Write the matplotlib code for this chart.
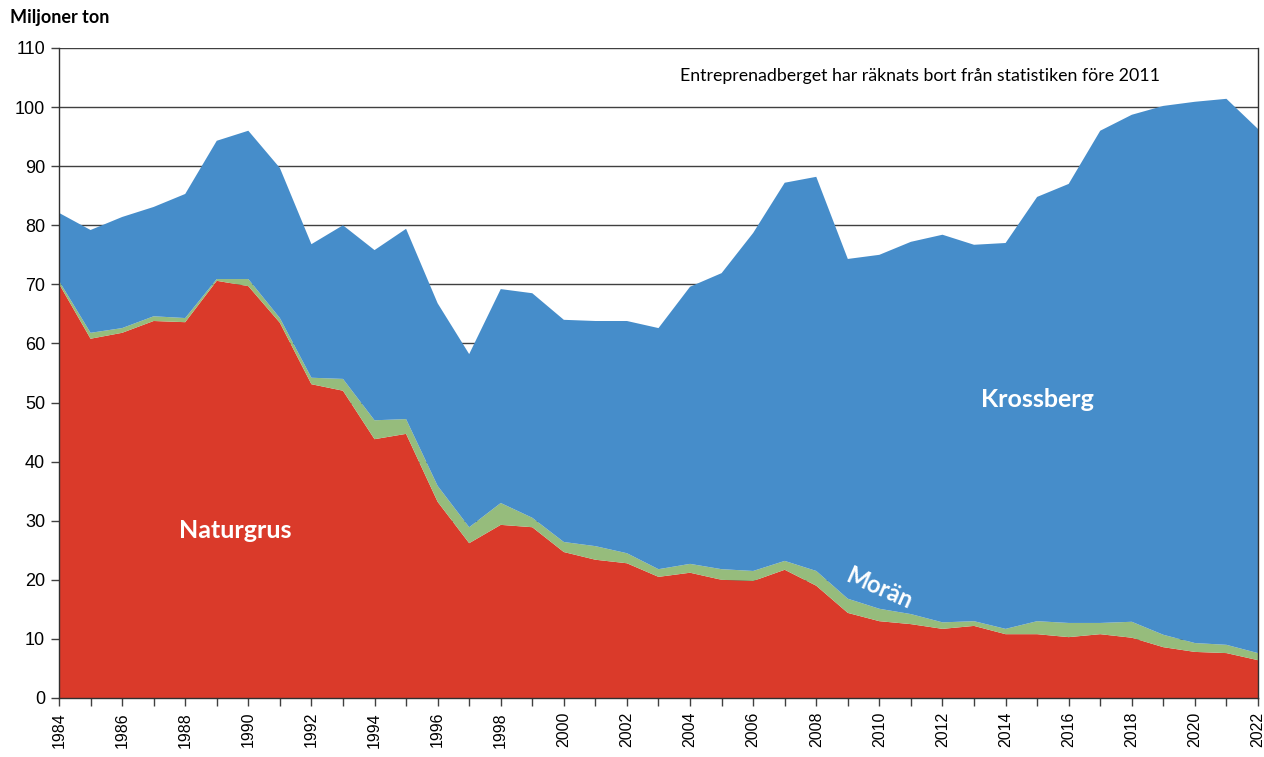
import matplotlib
matplotlib.use("Agg")
import matplotlib.pyplot as plt
import numpy as np

years = list(range(1984, 2023))
naturgrus = [70.1, 60.8, 61.8, 63.8, 63.6, 70.6, 69.7, 63.5, 53.1, 52.0,
             43.8, 44.7, 33.2, 26.2, 29.3, 28.9, 24.7, 23.4, 22.8, 20.5,
             21.2, 20.0, 19.8, 21.7, 19.0, 14.4, 13.0, 12.5, 11.7, 12.2,
             10.8, 10.8, 10.3, 10.8, 10.2, 8.6, 7.8, 7.6, 6.4]
moran = [0.5, 1.0, 0.8, 0.8, 0.7, 0.3, 1.2, 0.8, 1.1, 2.0,
         3.2, 2.5, 2.7, 2.7, 3.7, 1.6, 1.7, 2.3, 1.7, 1.3,
         1.5, 1.8, 1.7, 1.5, 2.5, 2.4, 2.1, 1.7, 1.1, 0.8,
         0.9, 2.2, 2.4, 1.9, 2.7, 2.1, 1.5, 1.4, 1.2]
krossberg = [11.5, 17.4, 18.8, 18.5, 21.0, 23.4, 25.1, 25.4, 22.6, 26.0,
             28.8, 32.2, 30.9, 29.3, 36.2, 38.0, 37.6, 38.1, 39.3, 40.8,
             46.9, 50.1, 57.2, 64.0, 66.7, 57.5, 59.9, 63.0, 65.6, 63.7,
             65.3, 71.8, 74.3, 83.3, 85.8, 89.5, 91.6, 92.4, 88.7]
yticks = list(range(0, 111, 10))

c_red = "#DA3A2A"
c_green = "#96BC7C"
c_blue = "#468DCA"

fig = plt.figure(figsize=(12.64, 7.57), dpi=100)
ax = fig.add_axes([59/1264, 1-698/757, (1258-59)/1264, (698-48)/757])

ax.stackplot(years, naturgrus, moran, krossberg,
             colors=[c_red, c_green, c_blue], linewidth=0, zorder=2)

ax.set_xlim(1984, 2022)
ax.set_ylim(0, 110)
ax.set_yticks(yticks)
ax.set_yticklabels([str(v) for v in yticks], fontsize=13, family="Liberation Sans")
ax.set_xticks(years)
ax.set_xticklabels([str(y) if y % 2 == 0 else "" for y in years],
                   rotation=90, fontsize=11.5, family="Liberation Sans")
ax.tick_params(axis="both", direction="out", length=6, width=1, color="#404040")
ax.tick_params(axis="x", pad=4)
ax.tick_params(axis="y", pad=4)

for v in yticks[1:]:
    ax.axhline(v, color="#404040", linewidth=1.0, zorder=1)
ax.set_axisbelow(True)

ax.spines["top"].set_visible(False)
for s in ["left", "bottom", "right"]:
    ax.spines[s].set_color("#303030")
    ax.spines[s].set_linewidth(1.0)

ax.text(1989.6, 28.4, "Naturgrus", color="white", fontsize=18, fontweight="bold",
        family="Lato", ha="center", va="center", zorder=5)
ax.text(2015.0, 50.6, "Krossberg", color="white", fontsize=18, fontweight="bold",
        family="Lato", ha="center", va="center", zorder=5)
ax.text(2010.0, 18.6, "Morän", color="white", fontsize=17, fontweight="bold",
        family="Lato", ha="center", va="center", rotation=-24, zorder=5)
ax.text(2011.3, 105.3, "Entreprenadberget har räknats bort från statistiken före 2011",
        fontsize=12.8, family="Lato", ha="center", va="center", zorder=5)

fig.text(10/1264, 1-18/757, "Miljoner ton", fontsize=13, fontweight="bold",
         family="Lato", ha="left", va="center")

fig.savefig("out.png", dpi=100)
